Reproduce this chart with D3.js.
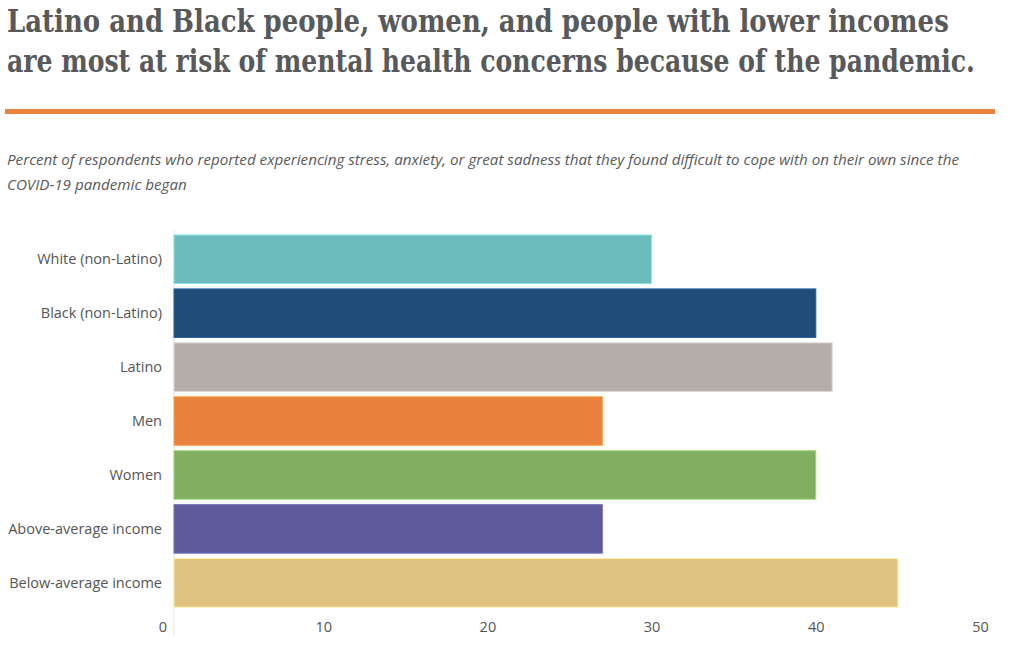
<!DOCTYPE html>
<html>
<head>
<meta charset="utf-8">
<script src="https://cdn.jsdelivr.net/npm/d3@7"></script>
<style>
  html, body { margin: 0; padding: 0; background: #fff; }
  svg { display: block; }
</style>
</head>
<body>
<svg id="chart" width="1024" height="646"></svg>
<script>
const categories = ["White (non-Latino)", "Black (non-Latino)", "Latino", "Men", "Women", "Above-average income", "Below-average income"];
const values = [30, 40, 41, 27, 40, 27, 45];
const colors = ["#6dbcbd", "#1e4d7a", "#b5adaa", "#e8823c", "#82ae62", "#5d5b99", "#e0c283"];
const tickValues = [0, 10, 20, 30, 40, 50];
const titleLines = ["Latino and Black people, women, and people with lower incomes", "are most at risk of mental health concerns because of the pandemic."];
const subtitleLines = ["Percent of respondents who reported experiencing stress, anxiety, or great sadness that they found difficult to cope with on their own since the", "COVID-19 pandemic began"];

const svg = d3.select("#chart");

// Title (fit each line horizontally with a scale transform)
const titleWidths = [942, 968];
svg.append("g").selectAll("text").data(titleLines).join("text")
  .attr("x", 0)
  .attr("y", 0)
  .attr("font-family", "'DejaVu Serif Condensed', 'DejaVu Serif', serif")
  .attr("font-weight", "bold")
  .attr("font-size", 32)
  .attr("fill", "#58595b")
  .text(d => d)
  .each(function(d, i) {
    const w = this.getComputedTextLength();
    const sx = titleWidths[i] / w;
    d3.select(this).attr("transform", `translate(7,${32 + i * 40}) scale(${sx},1)`);
  });

// Orange rule
svg.append("rect").attr("x", 5).attr("y", 109).attr("width", 990).attr("height", 5).attr("fill", "#e8823c");

// Subtitle
svg.append("g").selectAll("text").data(subtitleLines).join("text")
  .attr("x", 7)
  .attr("y", (d, i) => 165 + i * 25)
  .attr("font-family", "'Open Sans', Lato, sans-serif")
  .attr("font-style", "italic")
  .attr("font-size", 15.2)
  .attr("fill", "#5a5a5a")
  .text(d => d);

// Scales
const plotLeft = 174;
const x = d3.scaleLinear().domain([0, 50]).range([159, 980]);
const y = d3.scaleBand().domain(categories).range([232.3, 609.8]).paddingInner(0.1).paddingOuter(0.05);

// Axis baseline (vertical)
svg.append("line")
  .attr("x1", plotLeft).attr("x2", plotLeft)
  .attr("y1", 230).attr("y2", 636)
  .attr("stroke", "#e4e4e4").attr("stroke-width", 1);

// Bars
svg.append("g").selectAll("rect").data(categories).join("rect")
  .attr("x", plotLeft)
  .attr("y", d => y(d))
  .attr("width", (d, i) => x(values[i]) - plotLeft)
  .attr("height", y.bandwidth())
  .attr("fill", (d, i) => colors[i])
  .attr("stroke", (d, i) => d3.color(colors[i]).brighter(0.6))
  .attr("stroke-width", 1);

// Category labels
svg.append("g").selectAll("text").data(categories).join("text")
  .attr("x", 162)
  .attr("y", d => y(d) + y.bandwidth() / 2)
  .attr("dy", "0.35em")
  .attr("text-anchor", "end")
  .attr("font-family", "'Open Sans', Lato, sans-serif")
  .attr("font-size", 14.5)
  .attr("fill", "#555")
  .text(d => d);

// X axis tick labels
const xAxis = d3.axisBottom(x).tickValues(tickValues).tickSize(0).tickPadding(0);
const gx = svg.append("g").attr("transform", "translate(0,622)").call(xAxis);
gx.select(".domain").remove();
gx.selectAll("text")
  .attr("font-family", "'Open Sans', Lato, sans-serif")
  .attr("font-size", 14.5)
  .attr("fill", "#555")
  .attr("dx", d => d === 0 ? 3.5 : 0);
</script>
</body>
</html>
